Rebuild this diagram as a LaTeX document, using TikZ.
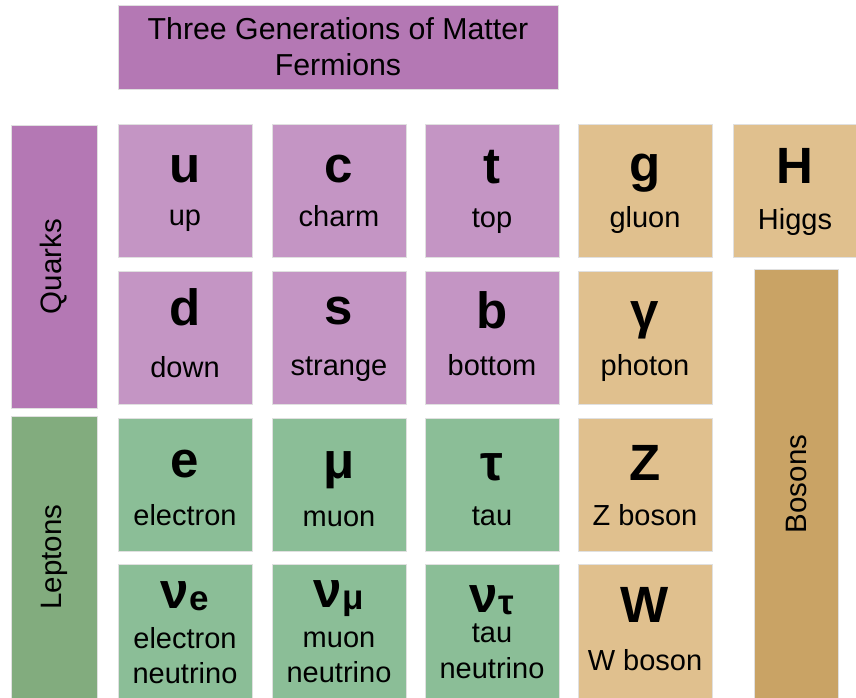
\documentclass[tikz,border=0pt]{standalone}
\usepackage{fontspec}
\setmainfont{Liberation Sans}
\usetikzlibrary{calc}
\definecolor{smTitle}{RGB}{180,120,180}
\definecolor{smQuark}{RGB}{196,149,196}
\definecolor{smLepton}{RGB}{139,190,151}
\definecolor{smLeptonHead}{RGB}{130,172,126}
\definecolor{smBoson}{RGB}{224,192,142}
\definecolor{smBosonHead}{RGB}{201,163,101}
\tikzset{
 sm box/.style={rectangle,draw=black!12,line width=.8pt,anchor=north west,
                inner sep=0pt,outer sep=0pt},
 sm cell/.style={sm box,minimum width=134pt,minimum height=133pt},
 sm quark/.style={sm cell,fill=smQuark},
 sm lepton/.style={sm cell,fill=smLepton},
 sm boson/.style={sm cell,fill=smBoson},
 sm sym/.style={anchor=base,inner sep=0pt,font=\fontsize{51}{51}\selectfont\bfseries},
 sm name/.style={anchor=base,inner sep=0pt,font=\fontsize{29}{29}\selectfont},
 sm head/.style={inner sep=0pt,font=\fontsize{29.5}{29.5}\selectfont}
}
\newcommand{\smsub}[1]{\kern1pt{\fontsize{35}{35}\selectfont\raisebox{-2pt}{#1}}}

\begin{document}
\begin{tikzpicture}[x=1pt,y=-1pt]
 \useasboundingbox (0,0) rectangle (856,698);
 % headers
 \node[sm box,fill=smTitle,minimum width=440pt,minimum height=84pt] (title) at (118,5) {};
 \node[sm name,font=\fontsize{30.3}{30.3}\selectfont] (title l1) at ($(title.north)+(0,35)$) {Three Generations of Matter};
 \node[sm name,font=\fontsize{30.3}{30.3}\selectfont] (title l2) at ($(title.north)+(0,71)$) {Fermions};
 \node[sm box,fill=smTitle,minimum width=86pt,minimum height=283pt] (quarks) at (11,125) {};
 \node[sm head,rotate=90] at (quarks.center) {Quarks};
 \node[sm box,fill=smLeptonHead,minimum width=86pt,minimum height=290pt] (leptons) at (11,416) {};
 \node[sm head,rotate=90] at ($(leptons.north)+(0,141)$) {Leptons};
 \node[sm box,fill=smBosonHead,minimum width=84pt,minimum height=435pt] (bosons) at (754,269) {};
 \node[sm head,rotate=90] at ($(bosons.north)+(0,215)$) {Bosons};

 % particle cells
 \foreach \n/\x/\y/\s in {u/118/124/sm quark,c/272/124/sm quark,t/425/124/sm quark,
   g/578/124/sm boson,d/118/271/sm quark,s/272/271/sm quark,b/425/271/sm quark,
   ph/578/271/sm boson,e/118/418/sm lepton,mu/272/418/sm lepton,tau/425/418/sm lepton,
   Z/578/418/sm boson}
   \node[\s] (\n) at (\x,\y) {};
 \foreach \n/\x/\s in {nue/118/sm lepton,numu/272/sm lepton,nutau/425/sm lepton,W/578/sm boson}
   \node[\s,minimum height=140pt] (\n) at (\x,564) {};
 \node[sm boson,minimum width=130pt] (H) at (733,124) {};

 % row 1
 \node[sm sym] at ($(u.north)+(0,58)$) {u};
 \node[sm name] at ($(u.north)+(0,101)$) {up};
 \node[sm sym] at ($(c.north)+(0,58)$) {c};
 \node[sm name] at ($(c.north)+(0,102)$) {charm};
 \node[sm sym] at ($(t.north)+(0,59)$) {t};
 \node[sm name] at ($(t.north)+(0,103)$) {top};
 \node[sm sym] at ($(g.north)+(0,57)$) {g};
 \node[sm name] at ($(g.north)+(0,103)$) {gluon};
 \node[sm sym] at ($(H.north)+(-3,59)$) {H};
 \node[sm name] at ($(H.north)+(-3,105)$) {Higgs};
 % row 2
 \node[sm sym] at ($(d.north)+(0,54)$) {d};
 \node[sm name] at ($(d.north)+(0,106)$) {down};
 \node[sm sym] at ($(s.north)+(0,53)$) {s};
 \node[sm name] at ($(s.north)+(0,104)$) {strange};
 \node[sm sym] at ($(b.north)+(0,57)$) {b};
 \node[sm name] at ($(b.north)+(0,104)$) {bottom};
 \node[sm sym] at ($(ph.north)+(0,57)$) {γ};
 \node[sm name] at ($(ph.north)+(0,104)$) {photon};
 % row 3
 \node[sm sym] at ($(e.north)+(0,59)$) {e};
 \node[sm name] at ($(e.north)+(0,107)$) {electron};
 \node[sm sym] at ($(mu.north)+(0,60)$) {μ};
 \node[sm name] at ($(mu.north)+(0,108)$) {muon};
 \node[sm sym] at ($(tau.north)+(0,62)$) {τ};
 \node[sm name] at ($(tau.north)+(0,107)$) {tau};
 \node[sm sym] at ($(Z.north)+(0,62)$) {Z};
 \node[sm name] at ($(Z.north)+(0,107)$) {Z boson};
 % row 4
 \node[sm sym] at ($(nue.north)+(0,44)$) {ν\smsub{e}};
 \node[sm name] at ($(nue.north)+(0,84)$) {electron};
 \node[sm name] at ($(nue.north)+(0,119)$) {neutrino};
 \node[sm sym] at ($(numu.north)+(0,43)$) {ν\smsub{μ}};
 \node[sm name] at ($(numu.north)+(0,83)$) {muon};
 \node[sm name] at ($(numu.north)+(0,118)$) {neutrino};
 \node[sm sym] at ($(nutau.north)+(0,48)$) {ν\smsub{τ}};
 \node[sm name] at ($(nutau.north)+(0,78)$) {tau};
 \node[sm name] at ($(nutau.north)+(0,114)$) {neutrino};
 \node[sm sym] at ($(W.north)+(0,58)$) {W};
 \node[sm name] at ($(W.north)+(0,106)$) {W boson};
\end{tikzpicture}
\end{document}
